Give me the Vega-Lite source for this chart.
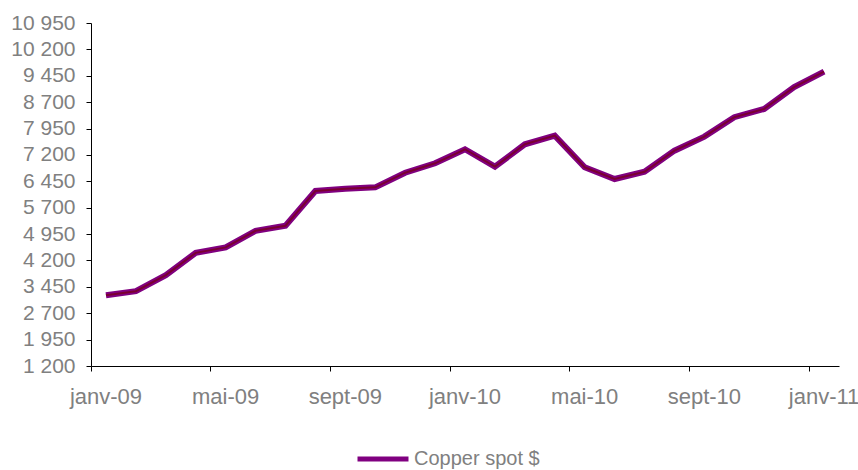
{
  "$schema": "https://vega.github.io/schema/vega-lite/v6.json",
  "width": 748,
  "height": 343,
  "autosize": {"type": "none"},
  "padding": {"left": 91, "top": 23, "right": 19, "bottom": 104},
  "background": "white",
  "config": {"view": {"stroke": null}, "font": "Liberation Sans"},
  "data": {
    "values": [
      {"mois": "janv-09", "prix": 3213, "serie": "Copper spot $"},
      {"mois": "févr-09", "prix": 3327, "serie": "Copper spot $"},
      {"mois": "mars-09", "prix": 3782, "serie": "Copper spot $"},
      {"mois": "avr-09", "prix": 4417, "serie": "Copper spot $"},
      {"mois": "mai-09", "prix": 4571, "serie": "Copper spot $"},
      {"mois": "juin-09", "prix": 5043, "serie": "Copper spot $"},
      {"mois": "juil-09", "prix": 5186, "serie": "Copper spot $"},
      {"mois": "août-09", "prix": 6174, "serie": "Copper spot $"},
      {"mois": "sept-09", "prix": 6239, "serie": "Copper spot $"},
      {"mois": "oct-09", "prix": 6279, "serie": "Copper spot $"},
      {"mois": "nov-09", "prix": 6695, "serie": "Copper spot $"},
      {"mois": "déc-09", "prix": 6962, "serie": "Copper spot $"},
      {"mois": "janv-10", "prix": 7361, "serie": "Copper spot $"},
      {"mois": "févr-10", "prix": 6866, "serie": "Copper spot $"},
      {"mois": "mars-10", "prix": 7503, "serie": "Copper spot $"},
      {"mois": "avr-10", "prix": 7748, "serie": "Copper spot $"},
      {"mois": "mai-10", "prix": 6848, "serie": "Copper spot $"},
      {"mois": "juin-10", "prix": 6515, "serie": "Copper spot $"},
      {"mois": "juil-10", "prix": 6723, "serie": "Copper spot $"},
      {"mois": "août-10", "prix": 7321, "serie": "Copper spot $"},
      {"mois": "sept-10", "prix": 7720, "serie": "Copper spot $"},
      {"mois": "oct-10", "prix": 8272, "serie": "Copper spot $"},
      {"mois": "nov-10", "prix": 8508, "serie": "Copper spot $"},
      {"mois": "déc-10", "prix": 9126, "serie": "Copper spot $"},
      {"mois": "janv-11", "prix": 9570, "serie": "Copper spot $"}
    ]
  },
  "encoding": {
    "x": {
      "field": "mois",
      "type": "ordinal",
      "sort": null,
      "bandPosition": 0.5,
      "scale": {"type": "band", "paddingInner": 0, "paddingOuter": 0},
      "axis": {
        "title": null,
        "values": ["janv-09", "mai-09", "sept-09", "janv-10", "mai-10", "sept-10", "janv-11"],
        "bandPosition": 0,
        "labelAngle": 0,
        "labelFont": "Liberation Sans",
        "labelFontSize": 22,
        "labelColor": "#808080",
        "labelPadding": 15,
        "tickSize": 5,
        "tickColor": "#000000",
        "domainColor": "#000000",
        "grid": false
      }
    },
    "y": {
      "field": "prix",
      "type": "quantitative",
      "scale": {"domain": [1200, 10950], "nice": false, "zero": false},
      "axis": {
        "title": null,
        "values": [1200, 1950, 2700, 3450, 4200, 4950, 5700, 6450, 7200, 7950, 8700, 9450, 10200, 10950],
        "labelExpr": "replace(format(datum.value, ','), ',', ' ')",
        "labelFont": "Liberation Sans",
        "labelFontSize": 21,
        "labelColor": "#808080",
        "labelPadding": 11,
        "tickSize": 5,
        "tickColor": "#000000",
        "domainColor": "#000000",
        "grid": false
      }
    }
  },
  "layer": [
    {
      "mark": {"type": "line", "strokeWidth": 6, "strokeJoin": "miter"},
      "encoding": {
        "color": {
          "field": "serie",
          "type": "nominal",
          "scale": {"range": ["#800080"]},
          "legend": {
            "title": null,
            "orient": "none",
            "legendX": 264,
            "legendY": 408,
            "symbolType": "stroke",
            "symbolSize": 2600,
            "symbolStrokeWidth": 5,
            "labelFont": "Liberation Sans",
            "labelFontSize": 20,
            "labelColor": "#808080",
            "labelOffset": 3
          }
        }
      }
    },
    {
      "mark": {"type": "line", "strokeWidth": 2, "color": "#7a0030", "strokeJoin": "miter"},
      "encoding": {}
    }
  ]
}
